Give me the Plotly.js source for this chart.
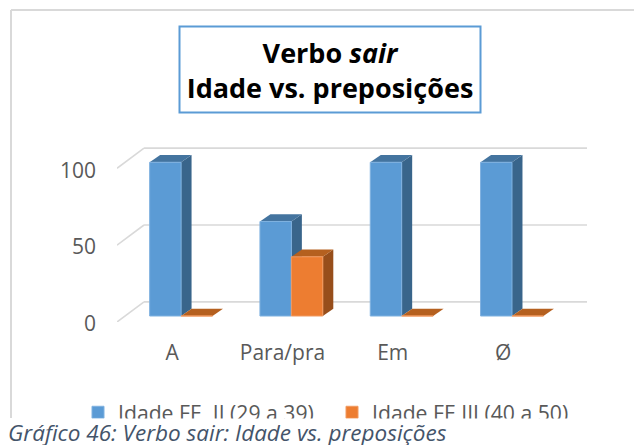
<!DOCTYPE html>
<html><head><meta charset="utf-8">
<script src="https://cdn.plot.ly/plotly-3.0.1.min.js"></script>
<style>html,body{margin:0;padding:0;background:#fff}</style></head>
<body><div id="chart" style="width:634px;height:445px"></div>
<script>
const categories = ["A", "Para/pra", "Em", "Ø"];
const serieII = [100, 61.5, 100, 100];
const serieIII = [0, 38.5, 0, 0];
const nameII = "Idade FE  II (29 a 39)";
const nameIII = "Idade FE III (40 a 50)";
const yTicks = [0, 50, 100];

const W = 634, H = 445, L = 117, R = 587, T = 140, B = 322;
const px = x => (x - L) / (R - L);
const py = y => (B - y) / (B - T);
const barW = 0.285, offII = -0.204, offIII = 0.081;
const base = 3.9, dx = 0.095, dy = 4.75, wallDx = 0.245, wallDy = 13.1, xMax = 3.761;
const gray = "#d9d9d9";

function poly(pts, fill) {
  return {type: "path", xref: "x", yref: "y", layer: "below", fillcolor: fill,
    line: {width: 0},
    path: "M" + pts.map(p => p[0] + "," + p[1]).join("L") + "Z"};
}
function box3d(i, off, v, top, side) {
  const x0 = i + off, x1 = x0 + barW, y0 = base, y1 = base + v;
  return [
    poly([[x1, y0], [x1 + dx, y0 + dy], [x1 + dx, y1 + dy], [x1, y1]], side),
    poly([[x0, y1], [x1, y1], [x1 + dx, y1 + dy], [x0 + dx, y1 + dy]], top)
  ];
}
const shapes = [];
yTicks.forEach(t => {
  shapes.push({type: "line", xref: "x", yref: "y", layer: "below", x0: -0.5 + wallDx, x1: xMax, y0: t + wallDy, y1: t + wallDy, line: {color: gray, width: 1.6}});
  shapes.push({type: "line", xref: "x", yref: "y", layer: "below", x0: -0.5, x1: -0.5 + wallDx, y0: t, y1: t + wallDy, line: {color: gray, width: 1.6}});
});
categories.forEach((c, i) => shapes.push(...box3d(i, offII, serieII[i], "#44749f", "#39658b")));
categories.forEach((c, i) => shapes.push(...box3d(i, offIII, serieIII[i], "#b5601f", "#974e1b")));
// frame and title box
shapes.push({type: "line", xref: "paper", yref: "paper", layer: "below", x0: px(11), x1: px(634), y0: py(10), y1: py(10), line: {color: gray, width: 2}});
shapes.push({type: "line", xref: "paper", yref: "paper", layer: "below", x0: px(11), x1: px(11), y0: py(10), y1: py(418), line: {color: gray, width: 2}});
shapes.push({type: "rect", xref: "paper", yref: "paper", layer: "above", x0: px(179.5), x1: px(480.5), y0: py(26.5), y1: py(112.5), line: {color: "#5b9bd5", width: 2}, fillcolor: "rgba(0,0,0,0)"});

const barLine = c => ({color: c, width: 1});
const common = {type: "bar", x: categories, base: categories.map(() => base), width: barW, hoverinfo: "skip"};
const data = [
  Object.assign({}, common, {name: nameII, y: serieII, offset: offII, marker: {color: "#5b9bd5", line: barLine("#7fb1e0")}}),
  Object.assign({}, common, {name: nameIII, y: serieIII, offset: offIII, marker: {color: "#ed7d31", line: barLine("#f19a60")}})
];
const layout = {
  width: W, height: H, paper_bgcolor: "#fff", plot_bgcolor: "rgba(0,0,0,0)",
  margin: {l: L, r: W - R, t: T, b: H - B, pad: 0, autoexpand: false},
  font: {family: "'Open Sans', sans-serif", color: "#595959"},
  barmode: "overlay", showlegend: true,
  title: {text: "<b>Verbo <i>sair</i></b><br><b>Idade vs. preposições</b>", x: 330 / W, xanchor: "center", xref: "container", y: 1 - 63 / H, yanchor: "middle", yref: "container", font: {size: 27, color: "#000", family: "'Open Sans', sans-serif"}},
  xaxis: {type: "category", categoryorder: "array", categoryarray: categories, range: [-0.5, xMax], showgrid: false, zeroline: false, showline: false, ticks: "", tickfont: {size: 21, color: "#595959"}, ticklabelstandoff: 16, fixedrange: true},
  yaxis: {range: [0, 118.4], tickvals: yTicks, ticktext: yTicks.map(String), showgrid: false, zeroline: false, showline: false, ticks: "", tickfont: {size: 21, color: "#595959"}, ticklabelstandoff: 20, ticklabelshift: 2, fixedrange: true},
  legend: {orientation: "h", x: px(78), xanchor: "left", y: py(392), yanchor: "top", entrywidth: 209, entrywidthmode: "pixels", font: {size: 21.2, color: "#595959"}, bgcolor: "rgba(0,0,0,0)", traceorder: "normal", itemclick: false},
  shapes: shapes,
  annotations: [{text: "<i>Gráfico 46: Verbo sair: Idade vs. preposições</i>", xref: "paper", yref: "paper", x: px(7), y: py(418), xanchor: "left", yanchor: "top", showarrow: false, align: "left", width: 627, height: 27, bgcolor: "#fff", borderpad: 0, font: {size: 22.5, color: "#44546a"}}]
};
Plotly.newPlot("chart", data, layout, {displayModeBar: false, staticPlot: true});
</script></body></html>
